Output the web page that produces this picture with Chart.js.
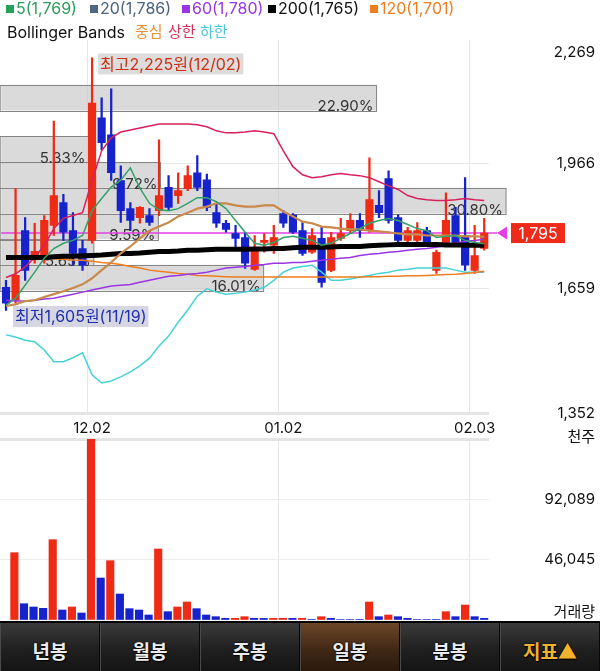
<!DOCTYPE html>
<html>
<head>
<meta charset="utf-8">
<script src="https://cdn.jsdelivr.net/npm/chart.js@4.4.1/dist/chart.umd.min.js"></script>
<style>
  body { margin: 0; width: 600px; height: 671px; overflow: hidden; background: #fff; position: relative;
         font-family: Inter, 'Noto Sans CJK KR', sans-serif; }
  canvas { position: absolute; left: 0; }
  #price { top: 0; }
  #volume { top: 425px; }
  .lg { position: absolute; font-size: 16px; line-height: 16px; white-space: nowrap; z-index: 2; }
  .lg i { display: inline-block; width: 8px; height: 8px; margin: 0 2px 2px 0; vertical-align: middle; }
  .lg2 { position: absolute; top: 24px; font-size: 16px; line-height: 16px; white-space: nowrap; z-index: 2; }
  .lg2.ko { font-size: 15px; }
  #tabs { position: absolute; left: 0; top: 621px; width: 600px; height: 50px; display: flex; background: #000;
          border-top: 2px solid #000; box-sizing: border-box; z-index: 3; }
  .tab { flex: 1; display: flex; align-items: center; justify-content: center; padding-top: 6px;
         background: linear-gradient(#3a3a3a, #202020 55%, #141414); color: #ececec;
         font: bold 19px 'Noto Sans CJK KR', sans-serif; border-left: 1px solid #4a4a4a; border-right: 1px solid #080808;
         text-shadow: 0 0 2px #000, 1px 1px 1px #000; }
  .tab.on { background: linear-gradient(#6b4628, #3e2614 60%, #2a190b); }
  .tab.gold { color: #f2b22e; }
</style>
</head>
<body>
<div id="legend"></div>
<div class="lg2" style="left:7px;color:#111">Bollinger Bands</div>
<div class="lg2 ko" style="left:135px;color:#e8923a">중심</div>
<div class="lg2 ko" style="left:168px;color:#d8305a">상한</div>
<div class="lg2 ko" style="left:200px;color:#48c8dc">하한</div>
<canvas id="price" width="600" height="440"></canvas>
<canvas id="volume" width="600" height="196"></canvas>
<div id="tabs">
  <div class="tab">년봉</div><div class="tab">월봉</div><div class="tab">주봉</div>
  <div class="tab on">일봉</div><div class="tab">분봉</div><div class="tab gold">지표▲</div>
</div>
<script>
const FONT = "Inter, 'Noto Sans CJK KR', sans-serif";
const RED = '#ee2b15';
const BLUE = '#1622cc';

// trading days, 2019-11-19 .. 2020-02-04
const dates = ['11.19','11.20','11.21','11.22','11.25','11.26','11.27','11.28','11.29',
  '12.02','12.03','12.04','12.05','12.06','12.09','12.10','12.11','12.12','12.13','12.16',
  '12.17','12.18','12.19','12.20','12.23','12.24','12.26','12.27','12.30',
  '01.02','01.03','01.06','01.07','01.08','01.09','01.10','01.13','01.14','01.15','01.16',
  '01.17','01.20','01.21','01.22','01.23','01.28','01.29','01.30','01.31',
  '02.03','02.04'];
const tickDates = ['12.02', '01.02', '02.03'];

const opens  = [1662,1630,1801,1740,1735,1814,1870,1801,1757,1777,2078,2036,1924,1855,1833,1838,1850,1907,1887,1904,1943,1926,1845,1819,1794,1784,1706,1772,1765,1843,1840,1801,1748,1782,1703,1782,1801,1826,1801,1863,1929,1833,1777,1777,1801,1703,1772,1838,1789,1703,1757];
const highs  = [1679,1904,1833,1819,1838,2070,1890,1845,1777,2225,2127,2149,1960,1870,1860,1855,2024,1936,1943,1960,1985,1940,1868,1826,1814,1797,1789,1794,1814,1850,1843,1821,1806,1809,1797,1831,1843,1843,1980,1899,1948,1840,1809,1821,1809,1753,1894,1858,1931,1814,1831];
const lows   = [1605,1623,1679,1721,1721,1789,1777,1716,1703,1770,2000,1924,1821,1801,1819,1814,1838,1850,1868,1899,1899,1850,1809,1797,1757,1708,1703,1748,1745,1809,1794,1740,1745,1662,1700,1777,1794,1784,1797,1833,1819,1772,1772,1772,1765,1696,1770,1770,1703,1696,1753];
const closes = [1623,1691,1703,1750,1826,1887,1797,1745,1716,2114,2017,1943,1850,1826,1858,1821,1887,1858,1899,1936,1907,1858,1819,1804,1782,1721,1757,1777,1784,1819,1797,1745,1789,1674,1784,1794,1826,1801,1877,1845,1826,1777,1801,1801,1772,1748,1826,1772,1716,1740,1795];

// volume, thousand shares
const volumes = [null,51370,12440,9920,8900,61300,7630,9920,5340,138100,32050,45280,19840,8650,7630,3820,54190,6360,9920,13740,8650,3820,2540,1270,1300,2540,1270,1200,1300,1350,1250,1300,300,2540,1270,400,350,300,13740,2540,3820,2540,1270,400,350,300,6360,2540,11440,2540,1270];

const ma5   = [1618,1635,1667,1699,1733,1757,1770,1777,1789,1850,1880,1908,1925,1955,1905,1868,1852,1850,1855,1868,1882,1882,1872,1855,1826,1797,1770,1765,1772,1784,1787,1782,1777,1765,1770,1782,1794,1806,1819,1826,1831,1826,1816,1806,1801,1784,1787,1789,1777,1772,1769];
const ma20  = [1616,1620,1628,1630,1638,1645,1652,1660,1669,1684,1704,1723,1745,1762,1782,1801,1811,1821,1836,1845,1855,1860,1868,1868,1863,1860,1860,1863,1863,1848,1836,1823,1819,1811,1809,1806,1804,1804,1801,1799,1797,1794,1792,1792,1789,1789,1789,1789,1787,1787,1786];
const ma60  = [1630,1628,1628,1630,1633,1635,1640,1645,1650,1655,1660,1665,1667,1669,1674,1679,1684,1689,1691,1694,1696,1699,1704,1709,1711,1713,1716,1718,1721,1721,1723,1723,1726,1728,1731,1733,1735,1740,1743,1745,1748,1750,1753,1755,1757,1760,1765,1770,1775,1777,1780];
const ma120 = [1735,1735,1734,1733,1733,1732,1731,1729,1728,1726,1723,1721,1718,1713,1709,1704,1701,1699,1696,1694,1691,1690,1689,1688,
               1687,1687,1687,1687,1687,1687,1687,1687,1687,1687,1687,1687,1687,1687,
               1688,1688,1689,1689,1690,1690,1691,1692,1693,1694,1696,1698,1701];
const ma200 = [1735,1735,1735,1735,1735,1737,1738,1738,1739,1740,1741,1743,1745,1745,1746,1748,1750,1750,1751,1753,1753,1754,1755,1755,1755,1755,1756,1756,1757,1757,1759,1760,1760,1760,1761,1762,1762,1762,1764,1765,1766,1767,1767,1767,1767,1767,1766,1766,1765,1765,1765];
const bbUpper = [1686,1695,1712,1735,1765,1806,1831,1838,1845,1924,1997,2029,2043,2048,2053,2058,2063,2063,2063,2063,2061,2056,2046,2041,2041,2043,2046,2043,2039,1997,1958,1938,1931,1933,1938,1941,1938,1936,1931,1921,1911,1902,1887,1880,1877,1875,1875,1877,1880,1877,1875];
const bbLower = [1545,1540,1532,1528,1508,1479,1479,1489,1501,1447,1427,1432,1442,1454,1469,1488,1518,1542,1576,1606,1640,1658,1650,1645,1647,1650,1655,1662,1679,1699,1709,1713,1716,1699,1679,1679,1682,1687,1691,1696,1699,1704,1706,1709,1709,1709,1709,1704,1699,1699,1699];
const bbMiddle = ma20; // centre line of the bands is the 20-day average

const priceTicks = [1352, 1659, 1966, 2269];
const volumeTicks = [0, 46045, 92089, 138134];

// volume by price: band edges (won) and share of volume per band (%)
const profileEdges = [1591, 1654, 1717, 1780, 1843, 1906, 1969, 2033, 2096, 2159, 2222];
const profilePct   = [0, 16.01, 5.65, 9.59, 30.80, 9.72, 5.33, 0, 22.90, 0];
const PROFILE_FULL = 29.76; // share that would fill the whole plot width

const fmt = v => v.toLocaleString('en-US');

// legend row built from the last moving-average values
const legendItems = [
  { label: '5',   data: ma5,   color: '#2c9c5c', box: '#25a158', left: 6 },
  { label: '20',  data: ma20,  color: '#4a6280', box: '#4f6684', left: 90 },
  { label: '60',  data: ma60,  color: '#9a35e6', box: '#9a35e6', left: 182 },
  { label: '200', data: ma200, color: '#111',    box: '#000',    left: 268 },
  { label: '120', data: ma120, color: '#f07d1d', box: '#f07d1d', left: 370 }
];
document.getElementById('legend').innerHTML = legendItems.map(it =>
  `<div class="lg" style="left:${it.left}px;top:0;color:${it.color}"><i style="background:${it.box}"></i>${it.label}(${fmt(it.data[it.data.length - 1])})</div>`
).join('');

Chart.defaults.font.family = FONT;

const candleColor = ctx => closes[ctx.dataIndex] >= opens[ctx.dataIndex] ? RED : BLUE;
const volumeColor = ctx => {
  const i = ctx.dataIndex;
  return (volumes[i] || 0) > (volumes[i - 1] || 0) ? RED : BLUE;
};

const xGrid = {
  offset: true,
  drawTicks: false,
  color: ctx => tickDates.includes(dates[ctx.index]) ? '#e6e6e6' : 'rgba(0,0,0,0)'
};

function lineSet(label, data, color, width, order) {
  return { type: 'line', label, data, borderColor: color, borderWidth: width,
           pointRadius: 0, fill: false, tension: 0, order };
}

function drawTag(ctx, text, left, cy, color, bg) {
  ctx.font = '16px ' + FONT;
  const w = ctx.measureText(text).width;
  ctx.fillStyle = bg;
  ctx.fillRect(left, cy - 10.5, w + 4, 21);
  ctx.fillStyle = color;
  ctx.textAlign = 'left';
  ctx.textBaseline = 'middle';
  ctx.fillText(text, left + 2, cy + 1);
}

const priceExtras = {
  id: 'priceExtras',
  beforeDatasetsDraw(chart) {
    const { ctx, chartArea, scales: { y } } = chart;
    ctx.save();
    profilePct.forEach((pct, i) => {
      if (!pct) return;
      const top = y.getPixelForValue(profileEdges[i + 1]);
      const bottom = y.getPixelForValue(profileEdges[i]);
      const right = chartArea.left + pct / PROFILE_FULL * chartArea.width;
      ctx.fillStyle = 'rgba(200,200,200,0.68)';
      ctx.fillRect(chartArea.left, top, right - chartArea.left, bottom - top);
      ctx.strokeStyle = '#858585';
      ctx.lineWidth = 1;
      ctx.strokeRect(chartArea.left - 1, Math.round(top) + 0.5, right - chartArea.left + 1, Math.round(bottom - top));
      ctx.fillStyle = '#333';
      ctx.font = '15px ' + FONT;
      ctx.textAlign = 'right';
      ctx.textBaseline = 'alphabetic';
      ctx.fillText(pct.toFixed(2) + '%', right - 3, bottom + 1);
    });
    const yc = y.getPixelForValue(closes[closes.length - 1]);
    ctx.strokeStyle = '#e43ee4';
    ctx.lineWidth = 1.5;
    ctx.beginPath();
    ctx.moveTo(chartArea.left, yc);
    ctx.lineTo(chartArea.right + 8, yc);
    ctx.stroke();
    ctx.restore();
  },
  afterDatasetsDraw(chart) {
    const { ctx, scales: { x, y } } = chart;
    ctx.save();
    const hi = highs.indexOf(Math.max(...highs));
    const lo = lows.indexOf(Math.min(...lows));
    drawTag(ctx, `최고${fmt(highs[hi])}원(${dates[hi].replace('.', '/')})`,
            x.getPixelForValue(hi) + 6, y.getPixelForValue(highs[hi]) + 6, '#d22d12', '#dcdcdc');
    drawTag(ctx, `최저${fmt(lows[lo])}원(${dates[lo].replace('.', '/')})`,
            x.getPixelForValue(lo) + 7, y.getPixelForValue(lows[lo]) + 6, '#1d2fae', '#d6d6e2');
    ctx.restore();
  },
  afterDraw(chart) {
    const { ctx, chartArea, scales: { y } } = chart;
    ctx.save();
    ctx.font = '15px ' + FONT;
    ctx.fillStyle = '#111';
    ctx.textAlign = 'right';
    ctx.textBaseline = 'middle';
    priceTicks.forEach(v => {
      let py = y.getPixelForValue(v);
      if (py < chartArea.top + 12) py = chartArea.top + 12;
      ctx.fillText(fmt(v), 595, py);
    });
    const last = closes[closes.length - 1];
    const yc = y.getPixelForValue(last);
    const tx = chartArea.right + 8;
    ctx.fillStyle = '#e43ee4';
    ctx.beginPath();
    ctx.moveTo(tx, yc);
    ctx.lineTo(tx + 10, yc - 6.5);
    ctx.lineTo(tx + 10, yc + 6.5);
    ctx.closePath();
    ctx.fill();
    ctx.fillStyle = '#ef2a18';
    ctx.fillRect(tx + 14, yc - 10, 54, 20);
    ctx.fillStyle = '#fff';
    ctx.font = '16px ' + FONT;
    ctx.textAlign = 'center';
    ctx.fillText(fmt(last), tx + 41, yc + 1);
    ctx.restore();
  }
};

new Chart(document.getElementById('price'), {
  type: 'bar',
  data: {
    labels: dates,
    datasets: [
      lineSet('MA5', ma5, '#34a06a', 1.5, 1),
      lineSet('BB middle', bbMiddle, '#c98a4b', 2.2, 2),
      lineSet('MA20', ma20, '#4f6684', 1, 3),
      lineSet('MA200', ma200, '#000', 5, 4),
      lineSet('MA60', ma60, '#9a35e6', 1.5, 5),
      lineSet('MA120', ma120, '#f07d1d', 1.5, 6),
      lineSet('BB upper', bbUpper, '#d8205a', 1.5, 7),
      lineSet('BB lower', bbLower, '#44d2d6', 1.5, 8),
      { label: 'body', data: dates.map((d, i) => [opens[i], closes[i]]), backgroundColor: candleColor,
        barThickness: 7.5, grouped: false, minBarLength: 1, order: 20 },
      { label: 'wick', data: dates.map((d, i) => [lows[i], highs[i]]), backgroundColor: candleColor,
        barThickness: 1.6, grouped: false, order: 21 }
    ]
  },
  options: {
    responsive: false,
    animation: false,
    events: [],
    layout: { padding: { top: 40, left: 0, right: 0, bottom: 0 } },
    plugins: { legend: { display: false }, tooltip: { enabled: false } },
    scales: {
      x: {
        afterFit: s => { s.height = 26.5; },
        ticks: { autoSkip: false, maxRotation: 0, padding: 6, color: '#111', font: { size: 15 },
                 callback: (v, i) => tickDates.includes(dates[i]) ? dates[i] : '' },
        grid: xGrid,
        border: { display: true, color: '#e4e4e4', width: 3 }
      },
      y: {
        position: 'right',
        min: priceTicks[0],
        max: priceTicks[priceTicks.length - 1],
        afterBuildTicks: s => { s.ticks = priceTicks.map(v => ({ value: v })); },
        afterFit: s => { s.width = 111; },
        ticks: { display: false },
        grid: { drawTicks: false,
                color: ctx => ctx.tick && ctx.tick.value === priceTicks[priceTicks.length - 1] ? 'rgba(0,0,0,0)' : '#e8e8e8' },
        border: { display: false }
      }
    }
  },
  plugins: [priceExtras]
});

const volumeExtras = {
  id: 'volumeExtras',
  afterDraw(chart) {
    const { ctx, chartArea, scales: { y } } = chart;
    ctx.save();
    ctx.font = '15px ' + FONT;
    ctx.fillStyle = '#111';
    ctx.textAlign = 'right';
    ctx.textBaseline = 'middle';
    ctx.fillText('천주', 595, chartArea.top - 2);
    volumeTicks.slice(1, -1).forEach(v => ctx.fillText(fmt(v), 595, y.getPixelForValue(v)));
    ctx.fillText('거래량', 595, chartArea.bottom - 8);
    ctx.restore();
  }
};

new Chart(document.getElementById('volume'), {
  type: 'bar',
  data: {
    labels: dates,
    datasets: [{ label: 'volume', data: volumes, backgroundColor: volumeColor, barThickness: 7.5 }]
  },
  options: {
    responsive: false,
    animation: false,
    events: [],
    layout: { padding: { top: 14, left: 0, right: 0, bottom: 1 } },
    plugins: { legend: { display: false }, tooltip: { enabled: false } },
    scales: {
      x: {
        afterFit: s => { s.height = 0; },
        ticks: { display: false },
        grid: xGrid,
        border: { display: false }
      },
      y: {
        position: 'right',
        min: 0,
        max: volumeTicks[volumeTicks.length - 1],
        afterBuildTicks: s => { s.ticks = volumeTicks.map(v => ({ value: v })); },
        afterFit: s => { s.width = 111; },
        ticks: { display: false },
        grid: {
          drawTicks: false,
          color: ctx => !ctx.tick || ctx.tick.value === 0 ? 'rgba(0,0,0,0)'
                 : (ctx.tick.value === volumeTicks[volumeTicks.length - 1] ? '#e4e4e4' : '#ececec'),
          lineWidth: ctx => ctx.tick && ctx.tick.value === volumeTicks[volumeTicks.length - 1] ? 3 : 1
        },
        border: { display: false }
      }
    }
  },
  plugins: [volumeExtras]
});
</script>
</body>
</html>
